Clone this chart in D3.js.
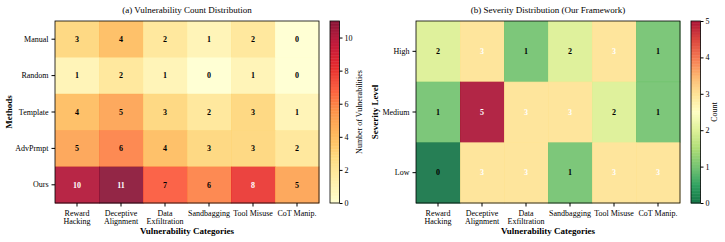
<!DOCTYPE html>
<html>
<head>
<meta charset="utf-8">
<script src="https://cdn.jsdelivr.net/npm/d3@7"></script>
<style>
  body { margin: 0; background: #fff; }
  svg { display: block; font-family: "Liberation Serif", "DejaVu Serif", serif; }
</style>
</head>
<body>
<div id="chart-container"></div>
<script>
const width = 725;
const height = 242;

// data
const categories = ["Reward\nHacking", "Deceptive\nAlignment", "Data\nExfiltration", "Sandbagging", "Tool Misuse", "CoT Manip."];
const methods = ["Manual", "Random", "Template", "AdvPrmpt", "Ours"];
const counts = [
    [3, 4, 2, 1, 2, 0],
    [1, 2, 1, 0, 1, 0],
    [4, 5, 3, 2, 3, 1],
    [5, 6, 4, 3, 3, 2],
    [10, 11, 7, 6, 8, 5]
];
const severities = ["High", "Medium", "Low"];
const severityCounts = [
    [2, 3, 1, 2, 3, 1],
    [1, 5, 3, 3, 2, 1],
    [0, 3, 3, 1, 3, 3]
];
const countTicks = [0, 2, 4, 6, 8, 10];
const severityTicks = [0, 1, 2, 3, 4, 5];

const ylorrd = d3.piecewise(d3.interpolateRgb, d3.schemeYlOrRd[9]);
const rdylgn = d3.piecewise(d3.interpolateRgb, d3.schemeRdYlGn[11].slice().reverse());

const svg = d3.select("#chart-container")
    .append("svg")
    .attr("viewBox", [0, 0, width, height])
    .attr("width", width)
    .attr("height", height);

function heatmap(opts) {
    const { rows, values, vmax, interp, x0, x1, title, ylabel, ylabelX, cbLabel, cbLabelX, ticks, whiteAbove } = opts;
    const y0 = 21, y1 = 203;
    const x = d3.scaleBand(d3.range(categories.length), [x0, x1]);
    const y = d3.scaleBand(d3.range(rows.length), [y0, y1]);
    const color = d3.scaleSequential([0, vmax], interp);
    const g = svg.append("g");

    const cells = values.flatMap((row, i) => row.map((v, j) => ({ i, j, v })));
    g.selectAll("rect.cell")
        .data(cells)
        .join("rect")
        .attr("x", d => x(d.j))
        .attr("y", d => y(d.i))
        .attr("width", x.bandwidth() + 0.5)
        .attr("height", y.bandwidth() + 0.5)
        .attr("fill", d => color(d.v))
        .attr("fill-opacity", 0.85);

    g.selectAll("text.val")
        .data(cells)
        .join("text")
        .attr("x", d => x(d.j) + x.bandwidth() / 2)
        .attr("y", d => y(d.i) + y.bandwidth() / 2)
        .attr("dy", "0.35em")
        .attr("text-anchor", "middle")
        .attr("font-size", 8)
        .attr("font-weight", "bold")
        .attr("fill", d => d.v > whiteAbove ? "#fff" : "#000")
        .text(d => d.v);

    g.append("rect")
        .attr("x", x0).attr("y", y0)
        .attr("width", x1 - x0).attr("height", y1 - y0)
        .attr("fill", "none").attr("stroke", "#000").attr("stroke-width", 0.8);

    // y axis
    const ya = g.append("g").attr("transform", `translate(${x0},0)`)
        .call(d3.axisLeft(y).tickFormat(i => rows[i]).tickSize(3.5).tickPadding(3))
        .attr("font-family", null).attr("font-size", 8);
    ya.select(".domain").remove();
    ya.selectAll("text").attr("fill", "#000");

    // x axis
    const xa = g.append("g").attr("transform", `translate(0,${y1})`)
        .call(d3.axisBottom(x).tickFormat("").tickSize(3.5))
        .attr("font-family", null).attr("font-size", 8);
    xa.select(".domain").remove();
    xa.selectAll(".tick").each(function (j) {
        const lines = categories[j].split("\n");
        const t = d3.select(this).append("text")
            .attr("y", 13)
            .attr("text-anchor", "middle")
            .attr("fill", "#000");
        lines.forEach((l, k) => t.append("tspan").attr("x", 0).attr("dy", k ? "1.05em" : 0).text(l));
    });

    g.append("text")
        .attr("x", (x0 + x1) / 2).attr("y", 13)
        .attr("text-anchor", "middle").attr("font-size", 9)
        .text(title);
    g.append("text")
        .attr("x", (x0 + x1) / 2).attr("y", 234)
        .attr("text-anchor", "middle").attr("font-size", 9).attr("font-weight", "bold")
        .text("Vulnerability Categories");
    g.append("text")
        .attr("transform", `translate(${ylabelX},${(y0 + y1) / 2}) rotate(-90)`)
        .attr("text-anchor", "middle").attr("font-size", 9).attr("font-weight", "bold")
        .text(ylabel);

    // colorbar
    const cbx = x1 + 11, cbw = 9.5;
    const cy = d3.scaleLinear([0, vmax], [y1, y0]);
    const steps = d3.range(0, 1.0001, 1 / 120);
    g.selectAll("rect.cb")
        .data(steps.slice(0, -1))
        .join("rect")
        .attr("x", cbx)
        .attr("y", t => cy((t + 1 / 120) * vmax))
        .attr("width", cbw)
        .attr("height", (y1 - y0) / 120 + 0.6)
        .attr("fill", t => color((t + 1 / 240) * vmax))
        .attr("fill-opacity", 0.85);
    g.append("rect")
        .attr("x", cbx).attr("y", y0).attr("width", cbw).attr("height", y1 - y0)
        .attr("fill", "none").attr("stroke", "#000").attr("stroke-width", 0.8);
    const ca = g.append("g").attr("transform", `translate(${cbx + cbw},0)`)
        .call(d3.axisRight(cy).tickValues(ticks).tickFormat(d3.format("d")).tickSize(3).tickPadding(2))
        .attr("font-family", null).attr("font-size", 8);
    ca.select(".domain").remove();
    ca.selectAll("text").attr("fill", "#000");
    g.append("text")
        .attr("transform", `translate(${cbLabelX},${(y0 + y1) / 2}) rotate(-90)`)
        .attr("text-anchor", "middle").attr("font-size", 8)
        .text(cbLabel);
}

heatmap({
    rows: methods, values: counts, vmax: 11, interp: ylorrd,
    x0: 55, x1: 319,
    title: "(a) Vulnerability Count Distribution",
    ylabel: "Methods", ylabelX: 12,
    cbLabel: "Number of Vulnerabilities", cbLabelX: 362,
    ticks: countTicks, whiteAbove: 7.5
});

heatmap({
    rows: severities, values: severityCounts, vmax: 5, interp: rdylgn,
    x0: 416, x1: 680,
    title: "(b) Severity Distribution (Our Framework)",
    ylabel: "Severity Level", ylabelX: 378,
    cbLabel: "Count", cbLabelX: 717,
    ticks: severityTicks, whiteAbove: 2.5
});
</script>
</body>
</html>
